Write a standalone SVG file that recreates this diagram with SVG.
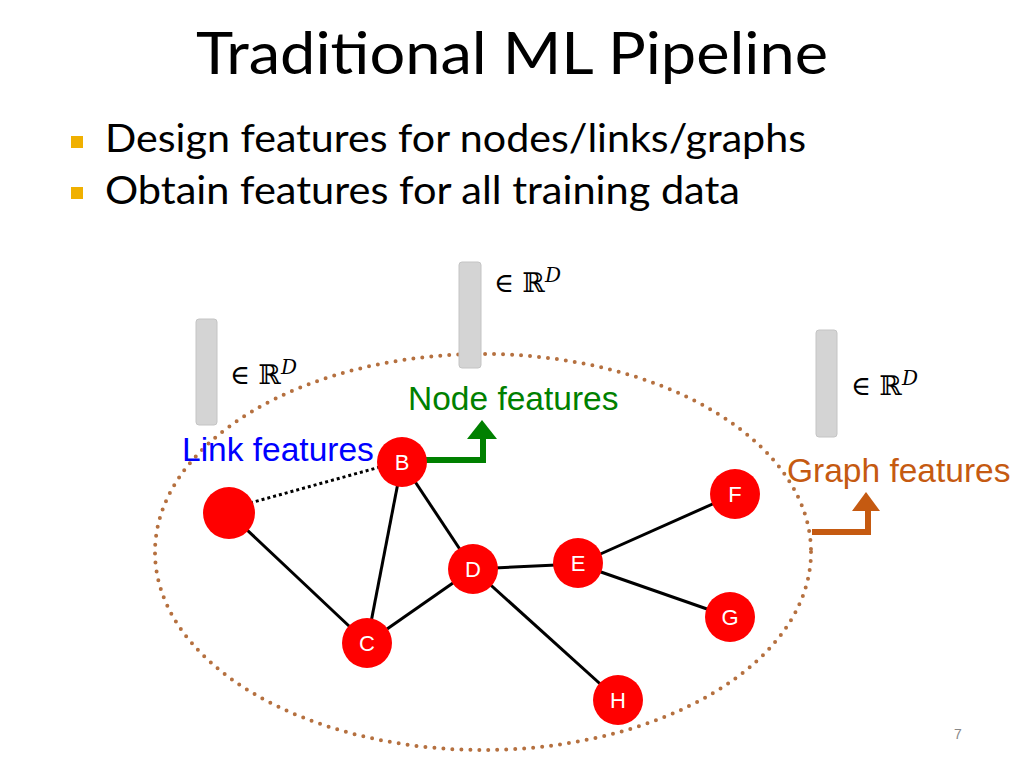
<svg xmlns="http://www.w3.org/2000/svg" width="1024" height="768" viewBox="0 0 1024 768">
<defs>
<style>
.title{font-family:Lato,"Open Sans",sans-serif;font-size:58px;fill:#000}
.bullet{font-family:Lato,"Open Sans",sans-serif;font-size:38px;fill:#000}
.sq{fill:#F0B000}
.bar{fill:#D4D4D4;stroke:#C4C4C4;stroke-width:1}
.math{font-family:"DejaVu Serif",serif;font-size:27px;fill:#000}
.lbl{font-family:"Liberation Sans",Arial,sans-serif;font-size:33.5px}
.node{fill:#FF0000}
.nt{font-family:"Liberation Sans",Arial,sans-serif;font-size:22px;fill:#fff;text-anchor:middle}
.edge{stroke:#000;stroke-width:3;fill:none}
</style>
</defs>
<rect width="1024" height="768" fill="#fff"/>
<text class="title" x="512" y="74" text-anchor="middle" textLength="632" lengthAdjust="spacingAndGlyphs">Traditional ML Pipeline</text>
<rect class="sq" x="71" y="136" width="12" height="12"/>
<text class="bullet" x="105" y="152" textLength="701" lengthAdjust="spacingAndGlyphs">Design features for nodes/links/graphs</text>
<rect class="sq" x="71" y="187" width="12" height="12"/>
<text class="bullet" x="105" y="204" textLength="635" lengthAdjust="spacingAndGlyphs">Obtain features for all training data</text>

<ellipse cx="483" cy="552" rx="328" ry="198" fill="none" stroke="#B5703F" stroke-width="4" stroke-linecap="round" stroke-dasharray="0 9"/>

<g id="vectors">
<rect class="bar" x="196" y="319" width="21" height="106" rx="3"/>
<text class="math" x="230" y="384">∈ ℝ<tspan font-style="italic" font-size="20" dy="-10">D</tspan></text>
<rect class="bar" x="459" y="262" width="22" height="106" rx="3"/>
<text class="math" x="494" y="292">∈ ℝ<tspan font-style="italic" font-size="20" dy="-10">D</tspan></text>
<rect class="bar" x="816" y="330" width="21" height="107" rx="3"/>
<text class="math" x="851" y="395">∈ ℝ<tspan font-style="italic" font-size="20" dy="-10">D</tspan></text>
</g>

<g id="connectors">
<line class="edge" x1="229" y1="513" x2="367" y2="643"/>
<line class="edge" x1="402" y1="462" x2="367" y2="643"/>
<line class="edge" x1="402" y1="462" x2="473" y2="569"/>
<line class="edge" x1="367" y1="643" x2="473" y2="569"/>
<line class="edge" x1="473" y1="569" x2="578" y2="564"/>
<line class="edge" x1="473" y1="569" x2="618" y2="700"/>
<line class="edge" x1="578" y1="564" x2="735" y2="494"/>
<line class="edge" x1="578" y1="564" x2="730" y2="617"/>
<line x1="250" y1="503" x2="380" y2="467" stroke="#000" stroke-width="3" stroke-dasharray="3 3"/>
<polyline points="425,460 483,460 483,436" fill="none" stroke="#008000" stroke-width="6"/>
<polygon points="482,420 467,439 497,439" fill="#008000"/>
<polyline points="812,532 868,532 868,509" fill="none" stroke="#C55A11" stroke-width="6"/>
<polygon points="866,492 852,511 880,511" fill="#C55A11"/>
</g>

<g id="node-A"><circle class="node" cx="229" cy="513" r="26"/></g>
<g id="node-B"><circle class="node" cx="402" cy="462" r="25"/><text class="nt" x="402" y="470">B</text></g>
<g id="node-C"><circle class="node" cx="367" cy="643" r="25"/><text class="nt" x="367" y="651">C</text></g>
<g id="node-D"><circle class="node" cx="473" cy="569" r="25"/><text class="nt" x="473" y="577">D</text></g>
<g id="node-E"><circle class="node" cx="578" cy="563" r="25"/><text class="nt" x="578" y="571">E</text></g>
<g id="node-F"><circle class="node" cx="735" cy="494" r="25"/><text class="nt" x="735" y="502">F</text></g>
<g id="node-G"><circle class="node" cx="730" cy="617" r="25"/><text class="nt" x="730" y="625">G</text></g>
<g id="node-H"><circle class="node" cx="618" cy="700" r="25"/><text class="nt" x="618" y="708">H</text></g>

<text class="lbl" x="408" y="410" fill="#008000">Node features</text>
<text class="lbl" x="182" y="461" fill="#0000FF">Link features</text>
<text class="lbl" x="787" y="482" fill="#C55A11">Graph features</text>
<text x="958" y="739" font-family="Liberation Sans,Arial,sans-serif" font-size="14" fill="#888" text-anchor="middle">7</text>
</svg>
